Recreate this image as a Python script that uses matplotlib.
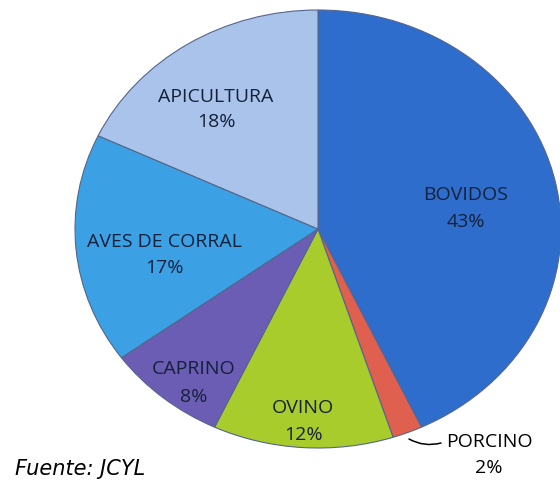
import matplotlib
matplotlib.use("Agg")
import matplotlib.pyplot as plt

categories = ["BOVIDOS", "PORCINO", "OVINO", "CAPRINO", "AVES DE CORRAL", "APICULTURA"]
values = [43, 2, 12, 8, 17, 18]
colors = ["#2f6dcc", "#e0604f", "#a8cc2c", "#6b5db3", "#3ba1e4", "#a9c3ea"]
source = "Fuente: JCYL"

W, H = 560, 480
AX_L, AX_T, AX_W, AX_H = 75, 10, 486, 438

def px2d(px, py):
    return ((px - AX_L) / AX_W * 2 - 1, 1 - (py - AX_T) / AX_H * 2)

# label anchor positions in pixels: (x centre, baseline line 1, baseline line 2)
label_px = {
    "BOVIDOS": (466, 200, 227),
    "PORCINO": (489, 447, 473),
    "OVINO": (303, 413, 440),
    "CAPRINO": (194, 374, 402),
    "AVES DE CORRAL": (164, 247, 273),
    "APICULTURA": (216, 102, 127),
}

fig = plt.figure(figsize=(W / 100, H / 100), dpi=100)
ax = fig.add_axes([AX_L / W, (H - AX_T - AX_H) / H, AX_W / W, AX_H / H])
wedges, _ = ax.pie(values, colors=colors, startangle=90, counterclock=False,
                   wedgeprops=dict(edgecolor="#55658c", linewidth=0.8))
ax.set_aspect("auto")
ax.set_xlim(-1, 1)
ax.set_ylim(-1, 1)
ax.axis("off")

txtcolor = "#15213a"
fam = ["Open Sans", "DejaVu Sans"]
fs = 14
for cat, val in zip(categories, values):
    cx, b1, b2 = label_px[cat]
    col = "black" if cat == "PORCINO" else txtcolor
    x1, y1 = px2d(cx, b1)
    x2, y2 = px2d(cx, b2)
    ax.text(x1, y1, cat, ha="center", va="baseline", fontsize=fs, fontweight="medium",
            color=col, family=fam, clip_on=False)
    ax.text(x2, y2, f"{val}%", ha="center", va="baseline", fontsize=fs, fontweight="medium",
            color=col, family=fam, clip_on=False)

# leader line for PORCINO
ax.annotate("", xy=px2d(409, 439), xytext=px2d(441, 443), annotation_clip=False,
            arrowprops=dict(arrowstyle="-", color="black", lw=1.1,
                            connectionstyle="arc3,rad=-0.2", shrinkA=0, shrinkB=0))

fig.text(15 / W, 1 - 475 / H, source, ha="left", va="baseline", fontsize=15,
         style="italic", family="DejaVu Sans", color="black")

fig.savefig("out.png", dpi=100)
